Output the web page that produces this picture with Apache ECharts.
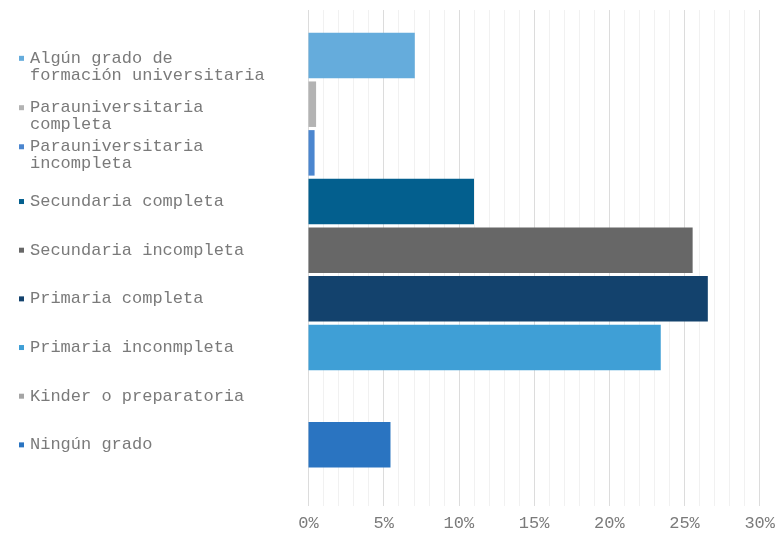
<!DOCTYPE html>
<html>
<head>
<meta charset="utf-8">
<script src="https://cdn.jsdelivr.net/npm/echarts@6/dist/echarts.min.js"></script>
<style>
  html, body { margin: 0; padding: 0; background: #ffffff; }
  #chart { width: 778px; height: 541px; }
</style>
</head>
<body>
<div id="chart"></div>
<script>
// Nivel educativo: share of people per highest grade reached (%)
const categories = [
  'Algún grado de\nformación universitaria',
  'Parauniversitaria\ncompleta',
  'Parauniversitaria\nincompleta',
  'Secundaria completa',
  'Secundaria incompleta',
  'Primaria completa',
  'Primaria inconmpleta',
  'Kinder o preparatoria',
  'Ningún grado'
];
const shares = [7.0, 0.5, 0.4, 10.9, 25.3, 26.3, 23.2, 0, 5.4];
const tickLabels = ['0%', '5%', '10%', '15%', '20%', '25%', '30%'];

const barColors = ['#65acdc', '#b3b3b3', '#4b86cf', '#035f8e', '#676767', '#13426d', '#3f9fd6', '#a5a5a5', '#2a74c1'];
// extra space above wrapped labels so they sit like the legend entries
const labelGap = [22.6, 24, 4.8, 0, 0, 0, 0, 0, 0];

const textStyle = { fontFamily: 'Liberation Mono', fontSize: 17, color: '#7a7a7a' };

const rich = {
  t: Object.assign({ lineHeight: 17, padding: [0, 0, 0, 6] }, textStyle),
  i: { width: 5, height: 5 }
};
categories.forEach((c, k) => {
  rich['m' + k] = { width: 5, height: 5, backgroundColor: barColors[k], verticalAlign: 'middle' };
  rich['g' + k] = { width: 1, height: labelGap[k], lineHeight: labelGap[k] };
});

function labelFor(value, index) {
  const lines = value.split('\n');
  let out = '';
  if (labelGap[index] > 0) out += '{g' + index + '|}\n';
  out += '{m' + index + '|}{t|' + lines[0] + '}';
  for (let j = 1; j < lines.length; j++) out += '\n{i|}{t|' + lines[j] + '}';
  return out;
}

const chart = echarts.init(document.getElementById('chart'), null, { renderer: 'canvas' });

chart.setOption({
  animation: false,
  backgroundColor: '#ffffff',
  grid: [
    { left: 308.5, right: 14, top: 10, bottom: 35 },
    { left: 308.5, right: 14, top: 31.2, bottom: 71.8 }
  ],
  xAxis: [
    {
      gridIndex: 0, type: 'value', min: 0, max: 30, interval: 5,
      axisLine: { show: false }, axisTick: { show: false },
      splitLine: { show: true, lineStyle: { color: '#dcdcdc', width: 1 } },
      minorTick: { show: false, splitNumber: 5 },
      minorSplitLine: { show: true, lineStyle: { color: '#f1f1f1', width: 1 } },
      axisLabel: Object.assign({
        margin: 9,
        formatter: (v) => tickLabels[Math.round(v / 5)]
      }, textStyle)
    },
    {
      gridIndex: 1, type: 'value', min: 0, max: 30, show: false
    }
  ],
  yAxis: [
    { gridIndex: 0, type: 'value', show: false },
    {
      gridIndex: 1, type: 'category', data: categories, inverse: true,
      axisLine: { show: false }, axisTick: { show: false },
      axisLabel: {
        interval: 0,
        hideOverlap: false,
        align: 'left',
        margin: 289.5,
        formatter: labelFor,
        rich: rich
      }
    }
  ],
  series: [
    {
      type: 'bar',
      xAxisIndex: 1, yAxisIndex: 1,
      barCategoryGap: '6.5%',
      data: shares.map((v, k) => ({ value: v, itemStyle: { color: barColors[k] } }))
    }
  ]
});
</script>
</body>
</html>
